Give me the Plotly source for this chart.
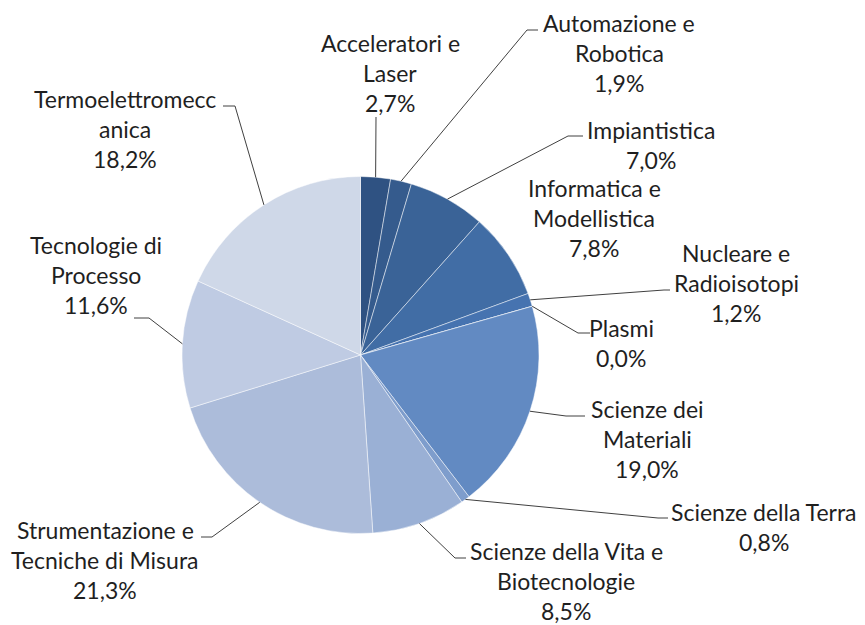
import math
import plotly.graph_objects as go

# ---- data ----
categories = ["Acceleratori e Laser", "Automazione e Robotica", "Impiantistica",
              "Informatica e Modellistica", "Nucleare e Radioisotopi", "Plasmi",
              "Scienze dei Materiali", "Scienze della Terra",
              "Scienze della Vita e Biotecnologie", "Strumentazione e Tecniche di Misura",
              "Tecnologie di Processo", "Termoelettromeccanica"]
values = [2.7, 1.9, 7.0, 7.8, 1.2, 0.0, 19.0, 0.8, 8.5, 21.3, 11.6, 18.2]
label_lines = [["Acceleratori e", "Laser"], ["Automazione e", "Robotica"], ["Impiantistica"],
               ["Informatica e", "Modellistica"], ["Nucleare e", "Radioisotopi"], ["Plasmi"],
               ["Scienze dei", "Materiali"], ["Scienze della Terra"],
               ["Scienze della Vita e", "Biotecnologie"], ["Strumentazione e", "Tecniche di Misura"],
               ["Tecnologie di", "Processo"], ["Termoelettromecc", "anica"]]

# ---- style / layout ----
colors = ["#2F5282", "#355B8D", "#3A6397", "#416DA5", "#4673B0", "#4F7AB8",
          "#628AC2", "#7E9DCC", "#9AB0D5", "#ACBCDA", "#BFCBE3", "#CFD8E8"]
OFF = 8  # page body margin offset
W, H = 865 - OFF, 625 - OFF
CX, CY, R = 360.5, 355.0, 178.5
# label text centre x, first-line centre y (pixels in the final screenshot)
label_pos = [(390, 43), (619, 23), (651, 130), (594, 188), (736, 253), (621, 328),
             (647, 409), (764, 512), (566, 551), (105, 530), (96, 245), (125, 99)]
LINE_STEP = 30
# leader line waypoints after the slice edge point (pixels); None = no leader
leaders = [[(376, 117)], [(527, 30), (538, 30)], [(568, 136), (583, 136)], None,
           [(664, 290), (670, 290)], [(578, 333), (590, 333)], [(566, 416), (585, 416)],
           [(658, 518), (668, 518)], [(455, 558), (466, 558)], [(212, 537), (201, 537)],
           [(149, 318), (134, 318)], [(235, 106), (223, 106)]]

FONT = "Lato, sans-serif"
FSIZE = 23
TXT = "#1f1f1f"

def px(x):
    return (x - OFF) / W

def py(y):
    return 1 - (y - OFF) / H

fig = go.Figure(go.Pie(
    labels=categories, values=values, sort=False, direction="clockwise", rotation=0,
    marker=dict(colors=colors, line=dict(color="rgba(255,255,255,0.6)", width=0.8)),
    textinfo="none", hoverinfo="label+percent", showlegend=False,
    domain=dict(x=[px(CX - R), px(CX + R)], y=[py(CY + R), py(CY - R)]),
))

total = sum(values)
annotations = []
shapes = []
cum = 0.0
for i, v in enumerate(values):
    mid = (cum + v / 2) / total * 2 * math.pi
    cum += v
    ex = CX + R * math.sin(mid)
    ey = CY - R * math.cos(mid)
    lines = label_lines[i] + [f"{v:.1f}".replace(".", ",") + "%"]
    lx, ly = label_pos[i]
    for k, t in enumerate(lines):
        annotations.append(dict(
            x=px(lx), y=py(ly + k * LINE_STEP), xref="paper", yref="paper",
            text=t, showarrow=False, xanchor="center", yanchor="middle",
            font=dict(family=FONT, size=FSIZE, color=TXT)))
    if leaders[i]:
        pts = [(ex, ey)] + leaders[i]
        path = "M " + " L ".join(f"{px(a)},{py(b)}" for a, b in pts)
        shapes.append(dict(type="path", path=path, xref="paper", yref="paper",
                           line=dict(color="#404040", width=1)))

fig.update_layout(
    width=W, height=H, margin=dict(l=0, r=0, t=0, b=0),
    paper_bgcolor="white", plot_bgcolor="white",
    annotations=annotations, shapes=shapes,
)
fig.write_html("out.html")
